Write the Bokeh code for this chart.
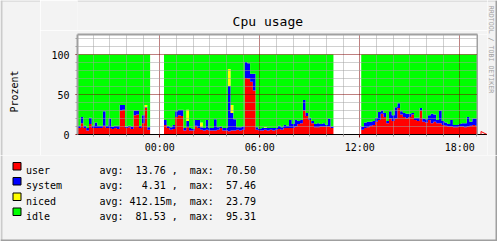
import math
import numpy as np
from bokeh.plotting import figure
from bokeh.layouts import row, column
from bokeh.models import (ColumnDataSource, FixedTicker, BoxAnnotation, Arrow,
                          NormalHead, Range1d)
from bokeh.core.properties import value
from bokeh.embed import file_html
from bokeh.resources import INLINE

# ---------------- data ----------------
SERIES = ["user", "system", "niced", "idle"]
COLORS = ["#FF0000", "#0000FF", "#FFFF00", "#00FF00"]
STATS = [
    "avg:  13.76 ,  max:  70.50",
    "avg:   4.31 ,  max:  57.46",
    "avg: 412.15m,  max:  23.79",
    "avg:  81.53 ,  max:  95.31",
]
TITLE = "Cpu usage"
Y_TITLE = "Prozent"
WATERMARK = "RRDTOOL / TOBI OETIKER"
START_HOUR = -(4 + 55 / 60)      # 19:05 of the previous day, hours from 00:00
STEP_HOURS = 10 / 60             # one sample every 10 minutes
X_TICKS = [0, 6, 12, 18]
X_LABELS = ["00:00", "06:00", "12:00", "18:00"]
X_MINOR = [h for h in range(-4, 20) if h not in X_TICKS]
Y_TICKS = [0, 50, 100]
Y_LABELS = ["0", "50", "100"]
Y_MINOR = [10, 20, 30, 40, 60, 70, 80, 90, 110, 120]

_ = None
user = ([8, 14, 8, 5, 13, 8, 8, 8, 8, 11, 8, 8, 7, 8, 7, 30, 31, 8, 9, 7, 24, 25, 8, 14, 33, 6]
        + [_] * 5 +
        [12, 8, 6, 7, 22, 24, 23, 5, 9, 5,
         5, 11, 8, 6, 5, 6, 5, 5, 5, 6,
         8, 5, 5, 4, 5, 5, 6, 5, 6, 70.5,
         70, 66, 55, 6, 5, 5, 6, 5, 6, 5,
         6, 7, 6, 8, 8, 8, 8, 10, 13, 14,
         30, 23, 18, 14, 9, 9, 10, 10, 10, 10,
         8]
        + [_] * 10 +
        [6, 8, 9, 11, 12, 16, 18, 26, 22, 14,
         20, 17, 20, 33, 25, 22, 20, 22, 25, 18,
         17, 30, 16, 15, 18, 14, 16, 14, 14, 12,
         11, 10, 10, 9, 9, 10, 10, 9, 10, 11,
         12, 11])
system = ([3, 8, 3, 3, 8, 3, 7, 3, 3, 18, 3, 12, 3, 3, 4, 7, 6, 2, 2, 3, 6, 5, 3, 10, 1, 3]
          + [_] * 5 +
          [6, 3, 3, 5, 7, 7, 8, 3, 8, 3,
           2, 7, 10, 3, 3, 12, 3, 3, 14, 3,
           2, 3, 3, 57, 22, 14, 3, 4, 4, 20,
           19, 10, 21, 3, 2, 3, 2, 3, 2, 3,
           2, 4, 3, 4, 3, 10, 5, 8, 4, 4,
           13, 4, 3, 3, 4, 5, 3, 4, 2, 10,
           2]
          + [_] * 10 +
          [4, 7, 7, 5, 5, 5, 10, 4, 5, 3,
           9, 7, 14, 6, 4, 5, 6, 4, 2, 3,
           4, 3, 4, 4, 6, 12, 9, 4, 16, 5,
           4, 3, 8, 3, 3, 3, 4, 5, 12, 5,
           8, 9])
niced = ([0, 0, 0, 0, 0, 0, 0, 0, 0, 0, 0, 0, 0, 0, 0, 0, 0, 0.5, 0, 0, 0, 0, 0, 0, 3, 0]
         + [_] * 5 +
         [0, 0, 0, 0, 0, 0, 0, 0, 14, 0,
          0, 0, 0, 6, 0, 0, 0, 0, 0, 0,
          0, 0, 0, 21, 10, 0, 0, 0, 0, 0,
          0, 0, 0, 0, 0, 0, 1, 0, 0, 0,
          0, 0, 0, 0, 0, 0, 0, 0, 0, 0,
          0, 0, 0, 0, 0, 0, 0, 0, 0, 0,
          0]
         + [_] * 10 +
         [0] * 42)
idle = ([89, 78, 89, 92, 79, 89, 85, 89, 89, 71, 89, 80, 90, 89, 89, 63, 63, 89.5, 89, 90, 70, 70, 89, 76, 63, 91]
        + [_] * 5 +
        [82, 89, 91, 88, 71, 69, 69, 92, 69, 92,
         93, 82, 82, 85, 92, 82, 92, 92, 81, 91,
         90, 92, 92, 18, 63, 81, 91, 91, 90, 9.5,
         11, 24, 24, 91, 93, 92, 91, 92, 92, 92,
         92, 89, 91, 88, 89, 82, 87, 82, 83, 82,
         57, 73, 79, 83, 87, 86, 87, 86, 88, 80,
         90]
        + [_] * 10 +
        [90, 85, 84, 84, 83, 79, 72, 70, 73, 83,
         71, 76, 66, 61, 71, 73, 74, 74, 73, 79,
         79, 67, 80, 81, 76, 74, 75, 82, 70, 83,
         85, 87, 82, 88, 88, 87, 86, 86, 78, 84,
         80, 80])

# ---------------- styling / layout constants ----------------
FONT = "DejaVu Sans Mono"
BG = "#F3F3F3"
MAJOR = "#800000"
MINOR = "#A0A0A0"
FRAME = "#A0A0A0"
SHADE_A = "#CBCBCB"     # top / left edge
SHADE_B = "#9F9F9F"     # bottom / right edge
W, H = 497, 241
TOP_H = 155             # height of the chart band, legend below
LEFT_W = 40             # left strip holding the y title
RIGHT_X = 487           # start of the right strip holding the watermark
HEAD_H = 30             # header band holding the title
PX_PER_HOUR = 400 / 24
X0 = START_HOUR - 0.0233
PLOT_END = X0 + 24
X1 = X0 + (RIGHT_X - 77) / PX_PER_HOUR


def keep_spaces(s):
    return s.replace(" ", "\u00a0")


def pane(x0, x1, y0, y1):
    """full-frame helper figure working in page pixel coordinates"""
    f = figure(width=x1 - x0, height=y1 - y0, x_range=Range1d(x0, x1),
               y_range=Range1d(y1, y0), output_backend="svg",
               toolbar_location=None, title=None, x_axis_type=None,
               y_axis_type=None, min_border=0, outline_line_color=None,
               background_fill_color=BG, border_fill_color=BG)
    return f


# ---------------- main chart ----------------
p = figure(width=RIGHT_X - LEFT_W, height=TOP_H - HEAD_H,
           x_range=(X0, X1), y_range=(0, 125), output_backend="svg",
           toolbar_location=None, title=None,
           min_border_left=77 - LEFT_W, min_border_right=0,
           min_border_top=34 - HEAD_H, min_border_bottom=TOP_H - 134,
           background_fill_color="white", border_fill_color=BG,
           outline_line_color=None)

arrays = [np.array(a, dtype=float) for a in (user, system, niced, idle)]
n = len(user)
starts = START_HOUR + np.arange(n) * STEP_HOURS
valid = ~np.isnan(arrays[0])
runs = []
i = 0
while i < n:
    if valid[i]:
        j = i
        while j + 1 < n and valid[j + 1]:
            j += 1
        runs.append((i, j))
        i = j + 1
    else:
        i += 1
for a, b in runs:
    st = starts[a:b + 1]
    data = {"x": np.column_stack([st, st + STEP_HOURS]).ravel()}
    for name, arr in zip(SERIES, arrays):
        data[name] = np.repeat(arr[a:b + 1], 2)
    p.varea_stack(SERIES, x="x", color=COLORS, source=ColumnDataSource(data))

p.xaxis.ticker = FixedTicker(ticks=X_TICKS, minor_ticks=X_MINOR)
p.yaxis.ticker = FixedTicker(ticks=Y_TICKS, minor_ticks=Y_MINOR)
p.xaxis.major_label_overrides = dict(zip(X_TICKS, X_LABELS))
p.yaxis.major_label_overrides = dict(zip(Y_TICKS, Y_LABELS))
for ax in (p.xaxis[0], p.yaxis[0]):
    ax.major_label_text_font = FONT
    ax.major_label_text_font_size = "10px"
    ax.major_label_text_color = "black"
    ax.major_tick_line_color = MAJOR
    ax.major_tick_in = 0
    ax.minor_tick_line_color = MINOR
    ax.minor_tick_in = 0
    ax.minor_tick_out = 2
p.xaxis.axis_line_color = "black"
p.xaxis.major_tick_out = 3
p.xaxis.major_label_standoff = 4
p.yaxis.axis_line_color = None
p.yaxis.major_tick_out = 2
p.yaxis.major_label_standoff = 6

p.xgrid.ticker = FixedTicker(ticks=X_TICKS, minor_ticks=X_MINOR)
p.ygrid.ticker = FixedTicker(ticks=[50, 100], minor_ticks=Y_MINOR)
for g in (p.xgrid[0], p.ygrid[0]):
    g.grid_line_color = MAJOR
    g.grid_line_dash = "1 1"
    g.minor_grid_line_color = MINOR
    g.minor_grid_line_dash = "1 1"
    g.level = "guide"

# grey area right of the graph (room for the axis arrow)
p.add_layout(BoxAnnotation(left=PLOT_END, bottom=0.7, fill_color=BG,
                           fill_alpha=1, line_color=None))
# graph frame
p.segment(x0=[X0, X0, PLOT_END], y0=[125, 0, 0], x1=[PLOT_END, X0, PLOT_END],
          y1=[125, 125, 125], line_color=FRAME, line_width=[2, 2, 1],
          level="overlay")
p.add_layout(Arrow(x_start=PLOT_END, y_start=0, x_end=X1 - 0.03, y_end=0,
                   line_color="black", line_width=1,
                   end=NormalHead(size=6, fill_color=None, line_color="red",
                                  line_width=1)))

# ---------------- surrounding panes ----------------
head = pane(LEFT_W, RIGHT_X, 0, HEAD_H)
head.quad(left=[LEFT_W], right=[RIGHT_X], top=[0], bottom=[1], fill_color=SHADE_A,
          line_color=None)
head.text(x=[247.5], y=[20.5], text=[TITLE], text_font=value(FONT),
          text_font_size=value("13px"), text_align="center",
          text_baseline="alphabetic", text_color="black")

left = pane(0, LEFT_W, 0, TOP_H)
left.quad(left=[0, 0], right=[LEFT_W, 2], top=[0, 0], bottom=[1, TOP_H],
          fill_color=SHADE_A, line_color=None)
left.text(x=[14], y=[91], text=[Y_TITLE], angle=math.pi / 2,
          text_font=value(FONT), text_font_size=value("10px"),
          text_align="center", text_baseline="middle", text_color="black")

right = pane(RIGHT_X, W, 0, TOP_H)
right.quad(left=[RIGHT_X, W - 2], right=[W, W], top=[0, 0], bottom=[1, TOP_H],
           fill_color=[SHADE_A, SHADE_B], line_color=None)
right.text(x=[490], y=[49], text=[WATERMARK], angle=-math.pi / 2,
           text_font=value(FONT), text_font_size=value("6.6px"),
           text_align="center", text_baseline="middle", text_color="#A0A0A0")

leg = pane(0, W, TOP_H, H)
leg.quad(left=[0, W - 2, 0], right=[2, W, W], top=[TOP_H, TOP_H, H - 2],
         bottom=[H, H, H], fill_color=[SHADE_A, SHADE_B, SHADE_B],
         line_color=None)
baselines = [170, 185, 200.5, 215.5]
leg.quad(left=[12.5] * 4, right=[20.5] * 4, top=[b - 8 for b in baselines],
         bottom=[b - 0.5 for b in baselines], fill_color=COLORS,
         line_color="black", line_width=1)
leg.text(x=[25.5] * 4, y=baselines, text=SERIES, text_font=value(FONT),
         text_font_size=value("10px"), text_baseline="alphabetic",
         text_color="black")
leg.text(x=[99] * 4, y=baselines, text=[keep_spaces(s) for s in STATS],
         text_font=value(FONT), text_font_size=value("10px"),
         text_baseline="alphabetic", text_color="black")

layout = column(row(left, column(head, p), right), leg)
open("out.html", "w").write(file_html(layout, INLINE))
